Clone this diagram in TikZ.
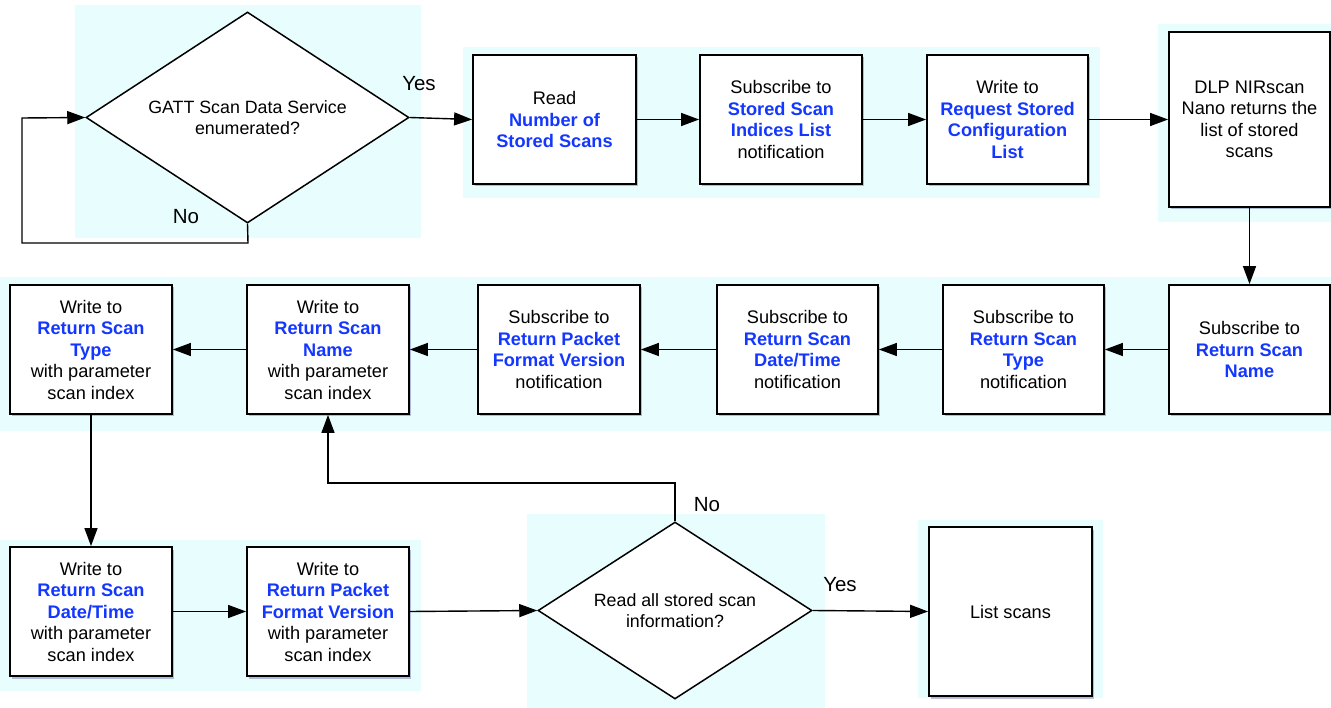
\documentclass[tikz,border=0pt]{standalone}
\usepackage{fontspec}
\setmainfont{Liberation Sans}
\usetikzlibrary{shapes.geometric,arrows.meta,shadows}

\definecolor{panel}{RGB}{232,253,253}
\definecolor{field}{RGB}{20,55,255}

\newcommand{\fld}[1]{{\bfseries\color{field}#1}}

\tikzset{
  every node/.style={inner sep=0pt},
  boxtext/.style={font=\fontsize{18.2}{21.5}\selectfont, align=center},
  stepbox/.style={boxtext, draw=black, line width=1.8pt, fill=white,
    minimum width=162pt, minimum height=129pt,
    drop shadow={shadow xshift=1.5pt, shadow yshift=-2.5pt, opacity=0.25, fill=blue!40!black}},
  decision/.style={diamond, draw=black, line width=1.5pt, fill=white, aspect=1.54,
    font=\fontsize{17.8}{20.5}\selectfont, align=center},
  answer/.style={font=\fontsize{20.5}{24}\selectfont},
  flow/.style={line width=1.4pt, -{Triangle[length=18pt,width=13pt]}},
  backdrop/.style={fill=panel, draw=none}
}

\begin{document}
\begin{tikzpicture}[x=1pt, y=-1pt]
\useasboundingbox (0,0) rectangle (1331,708);

% light background panels
\fill[backdrop] (75,5) rectangle (421,238);
\fill[backdrop] (463,47) rectangle (1100,198);
\fill[backdrop] (1158,24) rectangle (1331,222);
\fill[backdrop] (0,277) rectangle (1331,431);
\fill[backdrop] (0,540) rectangle (421,691);
\fill[backdrop] (527,514) rectangle (825,708);
\fill[backdrop] (918,520) rectangle (1103,698);

% first decision and top row
\node[decision, minimum width=323pt, minimum height=211pt] (d1) at (247.5,117.5)
  {GATT Scan Data Service\\enumerated?};
\node[stepbox, minimum width=163pt] (b1) at (554.5,119.5) {Read\\\fld{Number of}\\\fld{Stored Scans}};
\node[stepbox] (b2) at (781,119.5) {Subscribe to\\\fld{Stored Scan}\\\fld{Indices List}\\notification};
\node[stepbox, minimum width=161pt] (b3) at (1007.5,119.5) {Write to\\\fld{Request Stored}\\\fld{Configuration}\\\fld{List}};
\node[stepbox, minimum width=161pt, minimum height=175pt] (b4) at (1249.5,119.5)
  {DLP NIRscan\\Nano returns the\\list of stored\\scans};

% middle row (flows right to left)
\node[stepbox] (m1) at (91,349.5) {Write to\\\fld{Return Scan}\\\fld{Type}\\with parameter\\scan index};
\node[stepbox] (m2) at (328,349.5) {Write to\\\fld{Return Scan}\\\fld{Name}\\with parameter\\scan index};
\node[stepbox] (m3) at (559,349.5) {Subscribe to\\\fld{Return Packet}\\\fld{Format Version}\\notification};
\node[stepbox, minimum width=161pt] (m4) at (797.5,349.5) {Subscribe to\\\fld{Return Scan}\\\fld{Date/Time}\\notification};
\node[stepbox, minimum width=161pt] (m5) at (1023.5,349.5) {Subscribe to\\\fld{Return Scan}\\\fld{Type}\\notification};
\node[stepbox, minimum width=161pt] (m6) at (1249.5,349.5) {Subscribe to\\\fld{Return Scan}\\\fld{Name}};

% bottom row
\node[stepbox] (g1) at (91,611.5) {Write to\\\fld{Return Scan}\\\fld{Date/Time}\\with parameter\\scan index};
\node[stepbox] (g2) at (328,611.5) {Write to\\\fld{Return Packet}\\\fld{Format Version}\\with parameter\\scan index};
\node[decision, minimum width=274pt, minimum height=177pt] (d2) at (675,610.5)
  {Read all stored scan\\information?};
\node[stepbox, minimum width=163pt, minimum height=169pt] (ls) at (1010.5,611.5) {List scans};

% answer labels
\node[answer] (yes1) at (419,84) {Yes};
\node[answer] (no1) at (186,217) {No};
\node[answer] (no2) at (707,505) {No};
\node[answer] (yes2) at (840,585) {Yes};

% loop-back bends
\coordinate (l1) at (248,243);
\coordinate (l2) at (22,243);
\coordinate (l3) at (22,118);
\coordinate (r1) at (675,483);
\coordinate (r2) at (328,483);

% connectors
\draw[flow] (d1.east) -- (b1.west);
\draw[flow] (b1) -- (b2);
\draw[flow] (b2) -- (b3);
\draw[flow] (b3) -- (b4.west |- b3);
\draw[flow] (b4.south) -- (m6.north);
\draw[flow] (m6) -- (m5);
\draw[flow] (m5) -- (m4);
\draw[flow] (m4) -- (m3);
\draw[flow] (m3) -- (m2);
\draw[flow] (m2) -- (m1);
\draw[flow] (m1.south) -- (g1.north);
\draw[flow] (g1) -- (g2);
\draw[flow] (g2.east) -- (d2.west);
\draw[flow] (d2.east) -- (ls.west);
\draw[flow] (d1.south) -- (l1) -- (l2) -- (l3) -- (d1.west);
\draw[flow] (d2.north) -- (r1) -- (r2) -- (m2.south);

\end{tikzpicture}
\end{document}
